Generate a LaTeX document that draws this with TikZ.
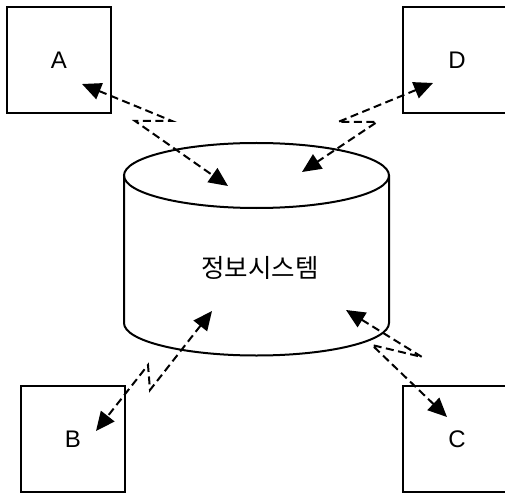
\documentclass[tikz,border=0pt]{standalone}
\usepackage{fontspec}
\setmainfont{Liberation Sans}
\newfontfamily\kofont{Noto Sans CJK KR}
\usetikzlibrary{positioning, calc, arrows.meta}
\tikzset{dpad0/.style={draw, line width=2pt, minimum width=104pt, minimum height=106pt, inner sep=0pt, font=\fontsize{24}{28}\selectfont}}
\tikzset{arr2/.style={draw, line width=2pt, dash pattern=on 8pt off 4.5pt, {Triangle[length=19pt,width=17pt]}-{Triangle[length=19pt,width=17pt]}}}
\tikzset{drum/.style={line width=2pt}}
\begin{document}
\begin{tikzpicture}[x=1pt, y=-1pt]
			\useasboundingbox (0,0) rectangle (505,494);
			\node[dpad0] (A) at (59,60) {A};
			\node[dpad0,minimum width=108pt] (D) at (457,60) {D};
			\node[dpad0] (B) at (73,439) {B};
			\node[dpad0,minimum width=108pt] (C) at (457,439) {C};
			%
			\draw[drum] (256.5,175.5) ellipse [x radius=132.5pt, y radius=32.5pt];
			\draw[drum] (124,175.5) -- (124,323)
				arc[start angle=180, end angle=360, x radius=132.5pt, y radius=32.5pt]
				-- (389,175.5);
			\node[font=\kofont\fontsize{25.5}{30}\selectfont] (sys) at (260,268) {정보시스템};
			%
			\coordinate (ta) at (82,84);
			\coordinate (sa) at (228,186);
			\coordinate (td) at (433,83);
			\coordinate (sd) at (302,172);
			\coordinate (tb) at (96,431);
			\coordinate (sb) at (212,311);
			\coordinate (tc) at (447,417);
			\coordinate (sc) at (346,310);
			%
			\draw[arr2] (ta) -- (172,121) -- (135,121) -- (sa);
			\draw[arr2] (td) -- (338,122) -- (377,122) -- (sd);
			\draw[arr2] (sb) -- (150,390) -- (148,365) -- (tb);
			\draw[arr2] (sc) -- (422,357) -- (372,345) -- (tc);
		\end{tikzpicture}
\end{document}
